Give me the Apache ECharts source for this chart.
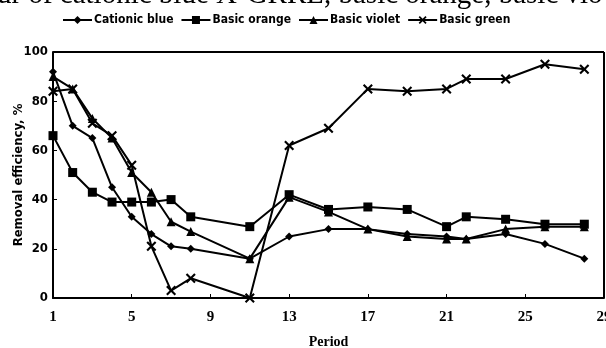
<!DOCTYPE html>
<html><head><meta charset="utf-8">
<script src="https://cdn.jsdelivr.net/npm/echarts@6/dist/echarts.min.js"></script>
<style>html,body{margin:0;padding:0;background:#fff}#c{width:606px;height:348px}</style>
</head><body><div id="c"></div>
<script>
const categories = Array.from({length: 29}, (_, i) => String(i + 1));
const periods = [1, 2, 3, 4, 5, 6, 7, 8, 11, 13, 15, 17, 19, 21, 22, 24, 26, 28];
const cationicBlue = [92, 70, 65, 45, 33, 26, 21, 20, 16, 25, 28, 28, 26, 25, 24, 26, 22, 16];
const basicOrange = [66, 51, 43, 39, 39, 39, 40, 33, 29, 42, 36, 37, 36, 29, 33, 32, 30, 30];
const basicViolet = [90, 85, 73, 65, 51, 43, 31, 27, 16, 41, 35, 28, 25, 24, 24, 28, 29, 29];
const basicGreen = [84, 85, 71, 66, 54, 21, 3, 8, 0, 62, 69, 85, 84, 85, 89, 89, 95, 93];
const seriesNames = ['Cationic blue', 'Basic orange', 'Basic violet', 'Basic green'];
const yTicks = [0, 20, 40, 60, 80, 100];

const cross = 'path://M0,1.5L1.5,0L5,3.5L8.5,0L10,1.5L6.5,5L10,8.5L8.5,10L5,6.5L1.5,10L0,8.5L3.5,5Z';
const symbols = ['diamond', 'rect', 'triangle', cross];
const sizes = [8, 9, 9, 10];
const values = [cationicBlue, basicOrange, basicViolet, basicGreen];
const narrow = '"Liberation Sans Narrow", "DejaVu Sans Condensed", "Liberation Sans"';

const chart = echarts.init(document.getElementById('c'));
chart.setOption({
  animation: false,
  backgroundColor: '#fff',
  graphic: [{
    type: 'text', left: -3, top: -19,
    style: { text: 'ur of cationic blue X-GRRL, basic orange, basic vio', font: '29px "Liberation Serif"', fill: '#000' }
  }],
  legend: {
    top: 9, left: 57, itemWidth: 29, itemHeight: 10, itemGap: 7,
    textStyle: { color: '#000', fontFamily: narrow, fontWeight: 'bold', fontSize: 12, padding: [0, 0, 0, -3] },
    data: seriesNames
  },
  grid: { left: 53, right: 2, top: 52, bottom: 50, containLabel: false, outerBoundsMode: 'none' },
  xAxis: {
    type: 'category', data: categories, boundaryGap: false,
    name: 'Period', nameLocation: 'middle', nameGap: 37,
    nameTextStyle: { color: '#000', fontFamily: '"Liberation Serif"', fontWeight: 'bold', fontSize: 14 },
    axisLine: { lineStyle: { color: '#000', width: 2 } },
    axisTick: { inside: true, interval: 3, length: 4, lineStyle: { color: '#000' } },
    axisLabel: { interval: 3, color: '#000', fontFamily: '"Liberation Serif"', fontWeight: 'bold', fontSize: 15, margin: 12 },
    splitLine: { show: false }
  },
  yAxis: {
    type: 'value', min: 0, max: 100, interval: 20,
    name: 'Removal efficiency, %', nameLocation: 'middle', nameGap: 28, nameRotate: 90,
    nameMoveOverlap: false,
    nameTextStyle: { color: '#000', fontFamily: narrow, fontWeight: 'bold', fontSize: 13 },
    axisLine: { show: true, lineStyle: { color: '#000', width: 2 } },
    axisTick: { show: true, inside: true, length: 4, lineStyle: { color: '#000' } },
    axisLabel: { color: '#000', fontFamily: narrow, fontWeight: 'bold', fontSize: 13, margin: 5,
      formatter: v => yTicks.includes(v) ? String(v) : '' },
    splitLine: { show: false }
  },
  series: seriesNames.map((name, k) => ({
    name, type: 'line',
    data: periods.map((p, i) => [String(p), values[k][i]]),
    symbol: symbols[k], symbolSize: sizes[k], showAllSymbol: true,
    lineStyle: { color: '#000', width: 2 },
    itemStyle: { color: '#000' },
    markLine: k === 0 ? {
      silent: true, symbol: 'none', label: { show: false },
      lineStyle: { color: '#000', width: 2, type: 'solid' },
      data: [[{ coord: ['1', 100] }, { coord: ['29', 100] }], [{ coord: ['29', 0] }, { coord: ['29', 100] }]]
    } : undefined
  }))
});
</script></body></html>
